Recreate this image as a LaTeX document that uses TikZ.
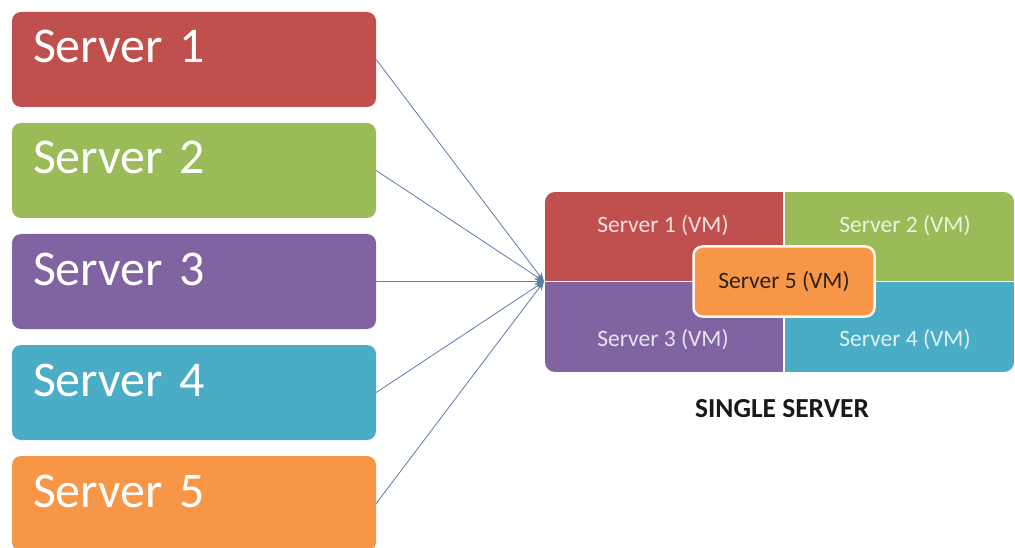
\documentclass[tikz,border=0pt]{standalone}
\usepackage{fontspec}
\setmainfont{Carlito}
\usetikzlibrary{arrows.meta}
\definecolor{cred}{HTML}{C0504D}
\definecolor{cgreen}{HTML}{9BBB59}
\definecolor{cpurple}{HTML}{8064A2}
\definecolor{cblue}{HTML}{4BACC6}
\definecolor{corange}{HTML}{F79646}
\definecolor{cline}{HTML}{5A7DA8}
\definecolor{cdark}{HTML}{2B2118}
\tikzset{
  srvbox/.style={rounded corners=9pt, minimum width=364pt, minimum height=95pt,
    inner xsep=21pt, text width=322pt, align=left, text height=32.2pt, text depth=25.2pt,
    font=\fontsize{50}{50}\selectfont, text=white, inner ysep=0pt},
  quad/.style={minimum width=238pt, minimum height=90pt, inner sep=0pt},
  vmtext/.style={font=\fontsize{23.5}{24}\selectfont, inner sep=0pt},
  conn/.style={draw=cline, line width=0.8pt, -{Stealth[length=9pt,width=7pt]}},
}
\begin{document}
\begin{tikzpicture}[x=1pt,y=-1pt]
\useasboundingbox (0,0) rectangle (1015,548);
\fill[white] (0,0) rectangle (1015,548);
% left servers
\node[srvbox, fill=cred]    (s1) at (194,59.5)  {Server 1};
\node[srvbox, fill=cgreen]  (s2) at (194,170.5) {Server 2};
\node[srvbox, fill=cpurple] (s3) at (194,281.5) {Server 3};
\node[srvbox, fill=cblue]   (s4) at (194,392.5) {Server 4};
\node[srvbox, fill=corange] (s5) at (194,503.5) {Server 5};
% single server block
\begin{scope}
\clip[rounded corners=10pt] (545,192) rectangle (1014,372);
\node[quad, fill=cred,    minimum width=238pt, minimum height=89pt] (q1) at (664,236.5) {};
\node[quad, fill=cgreen,  minimum width=230pt, minimum height=89pt] (q2) at (900,236.5) {};
\node[quad, fill=cpurple, minimum width=238pt, minimum height=90pt] (q3) at (664,327) {};
\node[quad, fill=cblue,   minimum width=230pt, minimum height=90pt] (q4) at (900,327) {};
\end{scope}
\node[vmtext, text=white!82!cred]    (t1) at (663,226) {Server 1 (VM)};
\node[vmtext, text=white!82!cgreen]  (t2) at (905,226) {Server 2 (VM)};
\node[vmtext, text=white!82!cpurple] (t3) at (663,340) {Server 3 (VM)};
\node[vmtext, text=white!82!cblue]   (t4) at (905,340) {Server 4 (VM)};
\node[fill=corange, draw=white!92!corange, line width=2.5pt, rounded corners=9pt,
  minimum width=181pt, minimum height=70pt, inner sep=0pt,
  font=\fontsize{23.5}{24}\selectfont, text=cdark] (s5vm) at (784,281.5) {Server 5 (VM)};
\node[font=\bfseries\fontsize{27.5}{28}\selectfont, text=black!90] (label) at (782,409) {SINGLE SERVER};
% connectors
\coordinate (hub) at (544,281.5);
\foreach \i in {1,...,5}{
  \draw[conn] (s\i.east) -- (hub);
}
\end{tikzpicture}
\end{document}
